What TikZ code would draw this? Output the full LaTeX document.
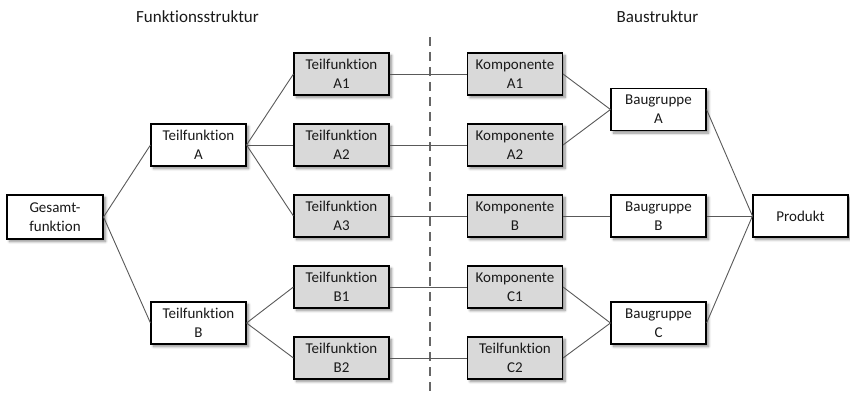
\documentclass[tikz,border=0pt]{standalone}
\usepackage{fontspec}
\setmainfont{Carlito}[Ligatures={NoCommon}]
\usetikzlibrary{shadows.blur}
\begin{document}
\begin{tikzpicture}[x=1pt,y=-1pt,
  box/.style={draw=black, line width=1.1pt, fill=white, minimum width=95pt, minimum height=42pt,
    inner sep=0pt, align=center, text=black!90, font=\fontsize{15}{19}\selectfont,
    blur shadow={shadow xshift=2.5pt, shadow yshift=-2.5pt, shadow blur radius=2.5pt, shadow blur steps=8, shadow opacity=45}},
  graybox/.style={box, fill=black!15},
  link/.style={draw=black!65, line width=0.9pt},
  title/.style={font=\fontsize{17}{21}\selectfont, text=black!90, inner sep=0pt},
  divider/.style={draw=black!60, line width=1.8pt, dash pattern=on 9pt off 6pt}]
\useasboundingbox (0,0) rectangle (850,393);

% column titles
\node[title] (tf) at (197.5,17) {Funktionsstruktur};
\node[title] (tb) at (657.5,17) {Baustruktur};

% divider between the two structures
\coordinate (d1) at (430,37);
\coordinate (d2) at (430,393);
\draw[divider] (d1) -- (d2);

% function structure
\node[box, minimum width=96pt, minimum height=44pt] (G) at (55,217) {Gesamt-\\funktion};
\node[box] (TA) at (198.5,145) {Teilfunktion\\A};
\node[box] (TB) at (198.5,323) {Teilfunktion\\B};
\node[graybox] (A1) at (341.5,74) {Teilfunktion\\A1};
\node[graybox] (A2) at (341.5,145) {Teilfunktion\\A2};
\node[graybox] (A3) at (341.5,216) {Teilfunktion\\A3};
\node[graybox] (B1) at (341.5,287) {Teilfunktion\\B1};
\node[graybox] (B2) at (341.5,358) {Teilfunktion\\B2};

% building structure
\node[graybox] (KA1) at (515,74) {Komponente\\A1};
\node[graybox] (KA2) at (515,145) {Komponente\\A2};
\node[graybox] (KB) at (515,216) {Komponente\\B};
\node[graybox] (KC1) at (515,287) {Komponente\\C1};
\node[graybox] (KC2) at (515,358) {Teilfunktion\\C2};
\node[box] (BA) at (658.5,109.5) {Baugruppe\\A};
\node[box] (BB) at (658.5,216) {Baugruppe\\B};
\node[box] (BC) at (658.5,323) {Baugruppe\\C};
\node[box] (P) at (800.5,216) {Produkt};

% connectors
\draw[link] (G.east) -- (TA.west);
\draw[link] (G.east) -- (TB.west);
\draw[link] (TA.east) -- (A1.west);
\draw[link] (TA.east) -- (A2.west);
\draw[link] (TA.east) -- (A3.west);
\draw[link] (TB.east) -- (B1.west);
\draw[link] (TB.east) -- (B2.west);
\draw[link] (A1.east) -- (KA1.west);
\draw[link] (A2.east) -- (KA2.west);
\draw[link] (A3.east) -- (KB.west);
\draw[link] (B1.east) -- (KC1.west);
\draw[link] (B2.east) -- (KC2.west);
\draw[link] (KA1.east) -- (BA.west);
\draw[link] (KA2.east) -- (BA.west);
\draw[link] (KB.east) -- (BB.west);
\draw[link] (KC1.east) -- (BC.west);
\draw[link] (KC2.east) -- (BC.west);
\draw[link] (BA.east) -- (P.west);
\draw[link] (BB.east) -- (P.west);
\draw[link] (BC.east) -- (P.west);
\end{tikzpicture}
\end{document}
